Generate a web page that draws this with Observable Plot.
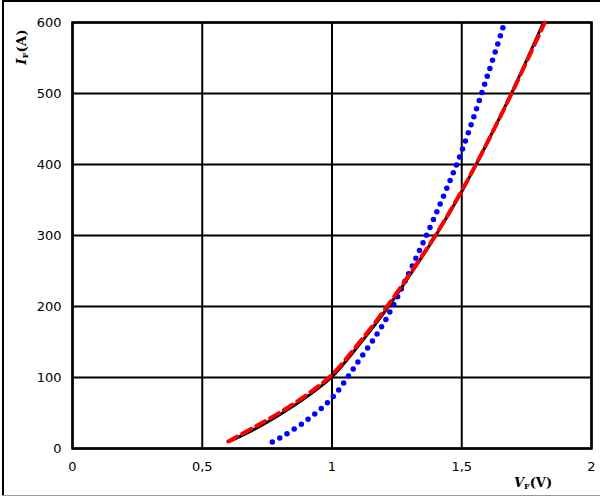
<!DOCTYPE html>
<html><head><meta charset="utf-8">
<script src="https://cdn.jsdelivr.net/npm/d3@7"></script>
<script src="https://cdn.jsdelivr.net/npm/@observablehq/plot@0.6"></script>
<style>
body{margin:0;background:#fff;}
#wrap{position:relative;width:600px;height:497px;overflow:hidden;background:#fff;}
#wrap svg{position:absolute;left:0;top:0;}
.bl{position:absolute;left:2px;top:0;width:2px;height:496px;background:#000;}
.bt{position:absolute;left:2px;top:0;width:598px;height:2px;background:#000;}
.bb{position:absolute;left:2px;top:495px;width:598px;height:1px;background:#999;}
</style></head><body><div id="wrap"><div class="bl"></div><div class="bt"></div><div class="bb"></div></div>
<script>
// Tick values and labels
const xTicks = [0, 0.5, 1, 1.5, 2];
const xTickLabels = ["0", "0,5", "1", "1,5", "2"];
const yTicks = [0, 100, 200, 300, 400, 500, 600];

// Black solid curve
const vBlack = [0.605, 0.70, 0.80, 0.90, 1.00, 1.10, 1.20, 1.30, 1.40, 1.50, 1.60, 1.70, 1.815];
const iBlack = [10, 27, 48, 72, 101, 144, 191, 244, 300, 362, 432, 507, 600];

// Red dashed curve
const vRed = [0.60, 0.70, 0.80, 0.90, 1.00, 1.10, 1.20, 1.30, 1.40, 1.50, 1.60, 1.70, 1.82];
const iRed = [10, 30, 51, 75, 104, 147, 194, 246, 301, 363, 432, 506, 600];

// Blue dotted curve
const vBlue = [0.77, 0.80, 0.90, 1.00, 1.10, 1.20, 1.30, 1.40, 1.50, 1.60, 1.665];
const iBlue = [9, 15, 39, 71, 122, 177, 250, 330, 419, 526, 600];

const toRows = (vs, is) => vs.map((v, k) => ({v, i: is[k]}));
const black = toRows(vBlack, iBlack);
const red = toRows(vRed, iRed);
const blue = toRows(vBlue, iBlue);

const chart = Plot.plot({
  width: 600,
  height: 497,
  marginLeft: 72,
  marginRight: 9,
  marginTop: 22,
  marginBottom: 49,
  style: {fontFamily: "DejaVu Sans, Verdana, sans-serif", fontSize: "13px", color: "#000", background: "transparent"},
  x: {domain: [0, 2]},
  y: {domain: [0, 600]},
  marks: [
    Plot.gridX(xTicks, {stroke: "#000", strokeOpacity: 1, strokeWidth: 2}),
    Plot.gridY(yTicks, {stroke: "#000", strokeOpacity: 1, strokeWidth: 2}),
    Plot.frame({stroke: "#000", strokeWidth: 2.5}),
    Plot.axisX(xTicks, {tickSize: 0, tickPadding: 13, label: null, tickFormat: d => xTickLabels[xTicks.indexOf(d)]}),
    Plot.axisY(yTicks, {tickSize: 0, tickPadding: 11, label: null}),
    Plot.line(blue, {x: "v", y: "i", stroke: "#0000ff", strokeWidth: 5.5, strokeDasharray: "0 8.5", strokeLinecap: "round", curve: "catmull-rom"}),
    Plot.line(black, {x: "v", y: "i", stroke: "#000", strokeWidth: 3, curve: "catmull-rom"}),
    Plot.line(red, {x: "v", y: "i", stroke: "#ff0000", strokeWidth: 4, strokeDasharray: "10 6", curve: "catmull-rom"})
  ]
});

document.getElementById("wrap").appendChild(chart);

const svg = d3.select(chart);
const xt = svg.append("text")
  .attr("x", 533).attr("y", 487)
  .attr("text-anchor", "middle")
  .attr("font-family", "DejaVu Serif, serif")
  .attr("font-weight", "bold")
  .attr("font-size", 13)
  .attr("fill", "#000");
xt.append("tspan").attr("font-style", "italic").text("V");
xt.append("tspan").attr("font-size", 8).attr("dy", 2).text("F");
xt.append("tspan").attr("dy", -2).text("(V)");

const yt = svg.append("text")
  .attr("transform", "translate(26,47) rotate(-90)")
  .attr("text-anchor", "middle")
  .attr("font-family", "DejaVu Serif, serif")
  .attr("font-weight", "bold")
  .attr("font-size", 13.5)
  .attr("fill", "#000");
yt.append("tspan").attr("font-style", "italic").text("I");
yt.append("tspan").attr("font-size", 8).attr("dy", 2).text("F");
yt.append("tspan").attr("dy", -2).text("(A)");
</script></body></html>
